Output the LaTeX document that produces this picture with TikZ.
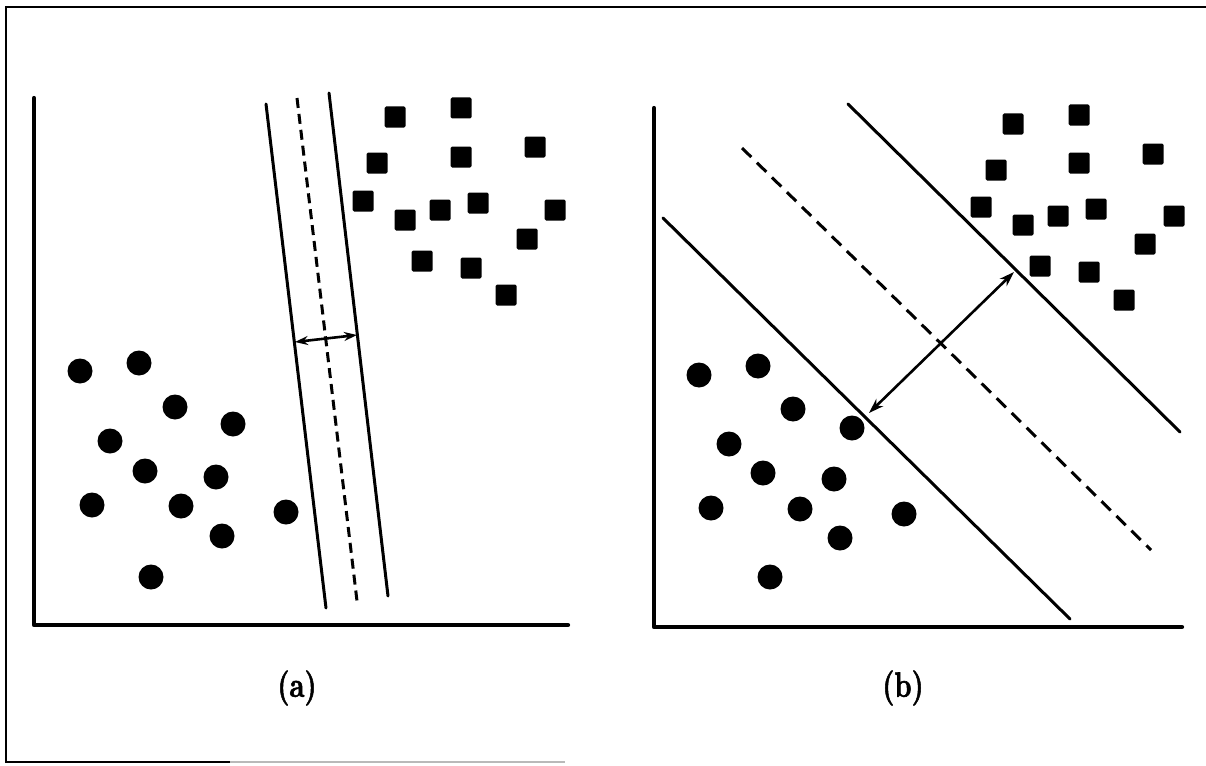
\documentclass[tikz,border=0pt]{standalone}
\usepackage{fontspec}
\usepackage{graphicx}
\usetikzlibrary{arrows.meta}
\newfontfamily\labfont{lmroman10-bold.otf}[FakeBold=1.8]
\begin{document}
\begin{tikzpicture}[x=1pt,y=-1pt,
  frame/.style={line width=1.8pt},
  axisline/.style={line width=4.2pt, line cap=round, line join=round},
  sepline/.style={line width=3pt, line cap=round},
  sepdashA/.style={line width=3pt, dash pattern=on 10pt off 6pt},
  sepdashB/.style={line width=3pt, dash pattern=on 13pt off 8pt},
  marginA/.style={line width=2.6pt, {Stealth[length=13pt,width=9pt]}-{Stealth[length=13pt,width=9pt]}},
  marginB/.style={line width=2.6pt, {Stealth[length=15pt,width=10pt]}-{Stealth[length=15pt,width=10pt]}},
  circdot/.style={circle, fill=black, inner sep=0pt, minimum size=25pt},
  sqdot/.style={rectangle, fill=black, inner sep=0pt, minimum size=21pt, rounded corners=1.5pt},
  lab/.style={inner sep=0pt}]
\useasboundingbox (0,0) rectangle (1206,765);

% outer frame
\coordinate (fTR) at (1206,7);
\coordinate (fTL) at (6,7);
\coordinate (fBL) at (6,762);
\coordinate (fBM) at (230,762);
\coordinate (fBR) at (565,762);
\draw[frame] (fTR) -- (fTL) -- (fBL) -- (fBM);
\draw[frame, gray!55] (fBM) -- (fBR);

% ---------------- panel (a) ----------------
\coordinate (aTop) at (34,98);
\coordinate (aO) at (34,625);
\coordinate (aRight) at (568,625);
\draw[axisline] (aTop) -- (aO) -- (aRight);

\coordinate (aL1) at (266,104);
\coordinate (aL2) at (326,608);
\coordinate (aD1) at (297,98);
\coordinate (aD2) at (357,601);
\coordinate (aR1) at (329,93);
\coordinate (aR2) at (388,596);
\draw[sepline] (aL1) -- (aL2);
\draw[sepdashA] (aD1) -- (aD2);
\draw[sepline] (aR1) -- (aR2);
\coordinate (aM1) at (295,342);
\coordinate (aM2) at (357,335);
\draw[marginA] (aM1) -- (aM2);

\foreach \x/\y [count=\i] in {80/371,139/363,175/407,233/424,110/441,145/471,216/477,92/505,181/506,222/536,286/512,151/577}
  \node[circdot] (ac\i) at (\x,\y) {};
\foreach \x/\y [count=\i] in {395/117,461/108,377/163,461/157,535/147,363/201,405/220,440/210,478/203,555/210,527/239,422/261,471/268,506/295}
  \node[sqdot] (as\i) at (\x,\y) {};

\node[lab] (la) at (297,688) {\scalebox{1}[1.3]{\fontsize{27}{30}\labfont (a)}};

% ---------------- panel (b) ----------------
\coordinate (bTop) at (654,108);
\coordinate (bO) at (654,627);
\coordinate (bRight) at (1182,627);
\draw[axisline] (bTop) -- (bO) -- (bRight);

\coordinate (bL1) at (663,218);
\coordinate (bL2) at (1070,619);
\coordinate (bD1) at (742,148);
\coordinate (bD2) at (1151,550);
\coordinate (bU1) at (848,104);
\coordinate (bU2) at (1180,432);
\draw[sepline] (bL1) -- (bL2);
\draw[sepdashB] (bD1) -- (bD2);
\draw[sepline] (bU1) -- (bU2);
\coordinate (bM1) at (1014,272);
\coordinate (bM2) at (869,413);
\draw[marginB] (bM1) -- (bM2);

\foreach \x/\y [count=\i] in {699/375,758/366,793/409,852/428,729/444,763/473,834/479,711/508,800/509,840/538,904/514,770/577}
  \node[circdot] (bc\i) at (\x,\y) {};
\foreach \x/\y [count=\i] in {1013/124,1079/115,996/170,1079/163,1153/154,981/207,1023/225,1058/216,1096/209,1174/216,1145/244,1040/266,1089/272,1124/300}
  \node[sqdot] (bs\i) at (\x,\y) {};

\node[lab] (lb) at (903,688) {\scalebox{1}[1.3]{\fontsize{27}{30}\labfont (b)}};
\end{tikzpicture}
\end{document}
